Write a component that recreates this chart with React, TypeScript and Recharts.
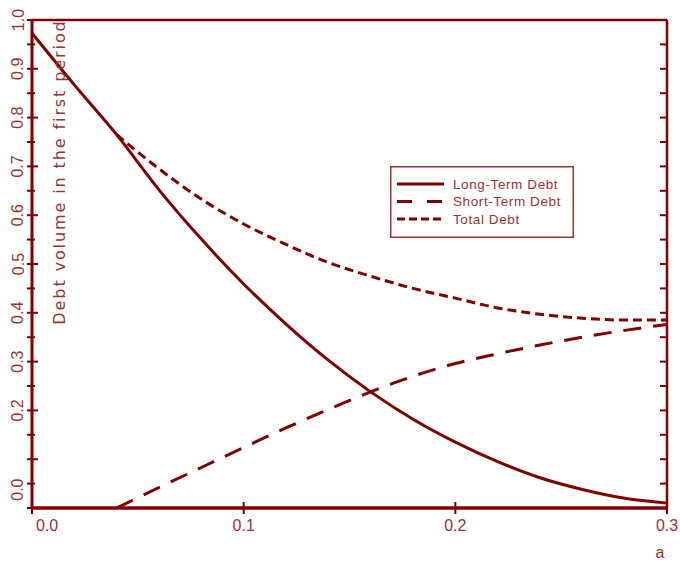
import React from 'react';
import { LineChart, Line, XAxis, YAxis, Label, ReferenceLine } from 'recharts';

// ---- data ----
const aValues = [0, 0.02, 0.04, 0.06, 0.08, 0.1, 0.12, 0.14, 0.16, 0.18, 0.2, 0.22, 0.24, 0.26, 0.28, 0.3];
const longTerm = [0.973, 0.867, 0.765, 0.652, 0.551, 0.459, 0.377, 0.303, 0.238, 0.182, 0.135, 0.095, 0.062, 0.038, 0.02, 0.01];
const shortTerm = [null, null, 0, 0.042, 0.083, 0.124, 0.164, 0.202, 0.238, 0.27, 0.296, 0.316, 0.334, 0.35, 0.364, 0.376];
const totalDebt = [null, null, 0.765, 0.695, 0.633, 0.582, 0.54, 0.503, 0.475, 0.45, 0.43, 0.41, 0.397, 0.389, 0.385, 0.385];

const xTicks = [0, 0.1, 0.2, 0.3];
const xTickLabels = ['0.0', '0.1', '0.2', '0.3'];
const yTicks = [0, 0.05, 0.1, 0.15, 0.2, 0.25, 0.3, 0.35, 0.4, 0.45, 0.5, 0.55, 0.6, 0.65, 0.7, 0.75, 0.8, 0.85, 0.9, 0.95, 1.0];
const yLabelValues = [1.0, 0.9, 0.8, 0.7, 0.6, 0.5, 0.4, 0.3, 0.2, 0.05];
const yLabelTexts = ['1.0', '0.9', '0.8', '0.7', '0.6', '0.5', '0.4', '0.3', '0.2', '0.0'];
const seriesNames = ['Long-Term Debt', 'Short-Term Debt', 'Total Debt'];
const yTitle = 'Debt volume in the first period';
const xTitle = 'a';

const data = aValues.map((a, i) => ({ a, lt: longTerm[i], st: shortTerm[i], total: totalDebt[i] }));

const CHART_W = 680;
const CHART_H = 562;
const RIGHT_GAP = 13;
const PLOT_RIGHT = CHART_W - RIGHT_GAP;

const C = '#800000';
const TXT = '#9a3333';
const FONT = '"Liberation Sans", Arial, sans-serif';
const TITLE_FONT = '"DejaVu Sans", sans-serif';

const near = (a: number, b: number) => Math.abs(a - b) < 1e-6;

const LeftTick = (props: any) => {
  const { x, y, payload } = props;
  const v = payload.value as number;
  const major = near(v * 10, Math.round(v * 10));
  const idx = yLabelValues.findIndex((l) => near(l, v));
  const ty = y + (idx >= 0 && yLabelTexts[idx] === '0.0' ? 6 : 0);
  const inner = v > 0.001 && v < 0.999;
  return (
    <g>
      <line x1={x - 5} x2={x + (major ? 6 : 3)} y1={y} y2={y} stroke={C} strokeWidth={2} />
      {inner && <line x1={PLOT_RIGHT - 7} x2={PLOT_RIGHT} y1={y} y2={y} stroke={C} strokeWidth={2} />}
      {idx >= 0 && (
        <text
          x={18}
          y={ty}
          transform={`rotate(-90 18 ${ty})`}
          textAnchor="middle"
          dominantBaseline="central"
          fontFamily={FONT}
          fontSize={16}
          fill={TXT}
        >
          {yLabelTexts[idx]}
        </text>
      )}
    </g>
  );
};

const BottomTick = (props: any) => {
  const { x, y, payload, index } = props;
  const idx = xTicks.findIndex((t) => near(t, payload.value));
  const first = index === 0;
  return (
    <g>
      <line x1={x} x2={x} y1={y - 6} y2={y + 6} stroke={C} strokeWidth={2} />
      <text
        x={first ? x + 4 : x}
        y={y + 17}
        textAnchor={first ? 'start' : 'middle'}
        dominantBaseline="central"
        fontFamily={FONT}
        fontSize={16}
        fill={TXT}
      >
        {idx >= 0 ? xTickLabels[idx] : ''}
      </text>
    </g>
  );
};

const legendStyles = [
  { dash: undefined as string | undefined },
  { dash: '15 15' },
  { dash: '8 4' },
];

const LegendBox = () => (
  <svg width={184} height={72} style={{ position: 'absolute', left: 390, top: 166 }}>
    <rect x={0.75} y={0.75} width={182.5} height={70.5} fill="white" stroke={TXT} strokeWidth={1.5} />
    {seriesNames.map((name, i) => {
      const yy = 18 + i * 17.5;
      return (
        <g key={name}>
          <line x1={7} x2={54} y1={yy} y2={yy} stroke={C} strokeWidth={3} strokeDasharray={legendStyles[i].dash} />
          <text x={63} y={yy} dominantBaseline="central" fontFamily={FONT} fontSize={13.5} letterSpacing={0.6} fill={TXT}>
            {name}
          </text>
        </g>
      );
    })}
  </svg>
);

export default function App() {
  return (
    <div style={{ position: 'absolute', left: 0, top: 0, width: CHART_W, height: CHART_H, background: 'white' }}>
      <LineChart width={CHART_W} height={CHART_H} data={data} margin={{ top: 20, right: RIGHT_GAP, bottom: 0, left: 0 }}>
        <XAxis
          dataKey="a"
          type="number"
          domain={[0, 0.3]}
          ticks={xTicks}
          interval={0}
          height={54}
          tickSize={0}
          tickMargin={0}
          tickLine={false}
          tick={<BottomTick />}
          axisLine={{ stroke: C, strokeWidth: 3.5 }}
        >
          <Label
            content={(p: any) => {
              const vb = p.viewBox || { x: 32, y: 508, width: 635, height: 54 };
              return (
                <text
                  x={vb.x + vb.width - 7}
                  y={vb.y + 44}
                  textAnchor="middle"
                  dominantBaseline="central"
                  fontFamily={FONT}
                  fontSize={16}
                  fill={TXT}
                >
                  {xTitle}
                </text>
              );
            }}
          />
        </XAxis>
        <YAxis
          yAxisId="left"
          type="number"
          domain={[0, 1]}
          ticks={yTicks}
          interval={0}
          width={32}
          tickSize={0}
          tickMargin={0}
          tickLine={false}
          tick={<LeftTick />}
          axisLine={{ stroke: C, strokeWidth: 3 }}
        >
          <Label
            content={() => (
              <text
                x={59}
                y={172}
                transform="rotate(-90 59 172)"
                textAnchor="middle"
                dominantBaseline="central"
                fontFamily={TITLE_FONT}
                fontSize={16}
                letterSpacing={1.9}
                fill={TXT}
              >
                {yTitle}
              </text>
            )}
          />
        </YAxis>
        <ReferenceLine yAxisId="left" y={1} stroke={C} strokeWidth={2.5} ifOverflow="visible" />
        <ReferenceLine yAxisId="left" x={0.3} stroke={C} strokeWidth={2.5} ifOverflow="visible" />
        <Line
          yAxisId="left"
          dataKey="lt"
          name={seriesNames[0]}
          type="monotone"
          stroke={C}
          strokeWidth={3}
          dot={false}
          isAnimationActive={false}
        />
        <Line
          yAxisId="left"
          dataKey="st"
          name={seriesNames[1]}
          type="monotone"
          stroke={C}
          strokeWidth={3}
          strokeDasharray="18 12"
          dot={false}
          isAnimationActive={false}
        />
        <Line
          yAxisId="left"
          dataKey="total"
          name={seriesNames[2]}
          type="monotone"
          stroke={C}
          strokeWidth={3}
          strokeDasharray="9 5"
          dot={false}
          isAnimationActive={false}
        />
      </LineChart>
      <LegendBox />
    </div>
  );
}
